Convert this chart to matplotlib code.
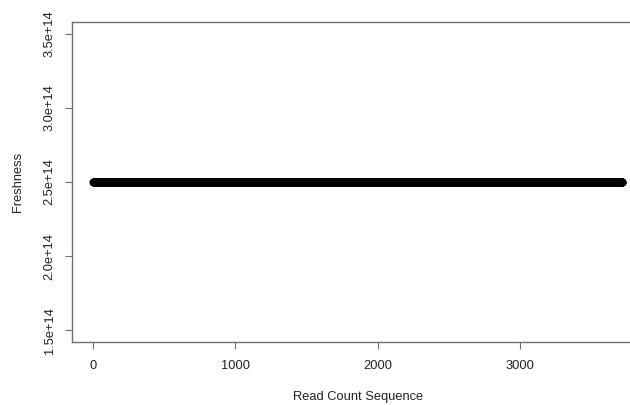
import matplotlib
matplotlib.use("Agg")
import matplotlib.pyplot as plt
import numpy as np

plt.rcParams['font.family'] = ['Liberation Sans', 'DejaVu Sans']

# freshness score per read, in read order
n_reads = 3717
read_seq = np.arange(1, n_reads + 1)
freshness = np.full(n_reads, 2.5e14)

x_ticks = [0, 1000, 2000, 3000]
y_ticks = [1.5e14, 2.0e14, 2.5e14, 3.0e14, 3.5e14]
y_labels = ['1.5e+14', '2.0e+14', '2.5e+14', '3.0e+14', '3.5e+14']

fig = plt.figure(figsize=(6.3, 4.05), dpi=100)
ax = fig.add_axes([72.3 / 630, 1 - 342 / 405, 570.7 / 630, 320 / 405])

ax.plot(read_seq, freshness, 'o', color='black', markersize=5.8,
        markeredgewidth=0)

# R-style padding around the data range
pad_x = 0.04 * (n_reads - 1)
ax.set_xlim(1 - pad_x, n_reads + pad_x)
ax.set_ylim(1.42e14, 3.58e14)

ax.set_xticks(x_ticks)
ax.set_xticklabels([str(t) for t in x_ticks])
ax.set_yticks(y_ticks)
ax.set_yticklabels(y_labels, rotation=90, va='center')

for s in ax.spines.values():
    s.set_color('#707070')
    s.set_linewidth(1.0)
ax.spines['right'].set_visible(False)
ax.tick_params(direction='out', length=5, width=0.8, color='#707070',
               labelsize=9.3, labelcolor='#222222')
ax.tick_params(axis='x', pad=8)
ax.tick_params(axis='y', pad=7)

fig.text(358 / 630, 1 - 397 / 405, 'Read Count Sequence', ha='center',
         va='center', fontsize=9.3, color='#222222')
fig.text(18 / 630, 1 - 182 / 405, 'Freshness', ha='center', va='center',
         rotation=90, fontsize=9.3, color='#222222')

fig.savefig('out.png', dpi=100)
